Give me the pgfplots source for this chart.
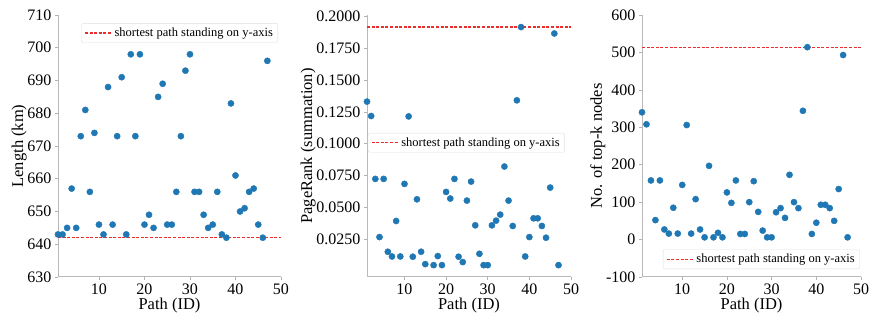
\documentclass[border=0pt]{standalone}
\usepackage{fontspec}
\setmainfont{Liberation Serif}
\usepackage{pgfplots}
\pgfplotsset{compat=1.18}
\definecolor{mblue}{RGB}{31,119,180}
\definecolor{mred}{RGB}{235,45,45}
\pgfplotsset{
  common/.style={
    scale only axis,
    anchor=south west,
    height=262pt,
    xmin=1, xmax=50,
    xtick={10,20,30,40,50},
    axis lines*=left,
    axis line style={draw=gray!55, line width=1pt},
    tick align=outside,
    major tick length=3pt,
    tick style={draw=gray!60, line width=0.6pt},
    /pgf/number format/assume math mode=true,
    tick label style={font=\fontsize{16}{18}\selectfont},
    label style={font=\fontsize{16.5}{18}\selectfont},
    xlabel={Path (ID)},
    xlabel style={yshift=3pt},
    ylabel style={yshift=-6pt},
    legend style={font=\fontsize{12.5}{14}\selectfont, draw=gray!25, rounded corners=2pt, fill=white, inner xsep=3pt, inner ysep=2.5pt},
    legend cell align=left,
    legend image code/.code={\draw[mred, line width=1.3pt, dash pattern=on 3pt off 1.6pt] (0cm,0cm) -- (0.95cm,0cm);},
  },
  refline/.style={mred, line width=1.3pt, dash pattern=on 3pt off 1.6pt},
}
\begin{document}
\begin{tikzpicture}
\useasboundingbox (0pt,0pt) rectangle (870pt,324pt);
% Panel 1
\begin{axis}[common, at={(58pt,47pt)}, width=223pt,
  ymin=630, ymax=710, ytick={630,640,...,710},
  ylabel={Length (km)},
  legend style={at={(0.987,0.969)}, anchor=north east}]
\addplot[only marks, mark=*, mark size=3.1pt, mblue, forget plot] coordinates {
(1,643)(2,643)(3,645)(4,657)(5,645)(6,673)(7,681)(8,656)(9,674)(10,646)
(11,643)(12,688)(13,646)(14,673)(15,691)(16,643)(17,698)(18,673)(19,698)(20,646)
(21,649)(22,645)(23,685)(24,689)(25,646)(26,646)(27,656)(28,673)(29,693)(30,698)
(31,656)(32,656)(33,649)(34,645)(35,646)(36,656)(37,643)(38,642)(39,683)(40,661)
(41,650)(42,651)(43,656)(44,657)(45,646)(46,642)(47,696)};
\addplot[refline] coordinates {(1,642)(50,642)};
\addlegendentry{shortest path standing on y-axis}
\end{axis}
% Panel 2
\begin{axis}[common, at={(367pt,47pt)}, width=204pt,
  ymin=-0.0045, ymax=0.2009,
  ytick={0.025,0.05,0.075,0.1,0.125,0.15,0.175,0.2},
  yticklabel style={/pgf/number format/.cd, fixed, fixed zerofill, precision=4},
  scaled y ticks=false,
  ylabel={PageRank (summation)},
  legend style={at={(0.97,0.55)}, anchor=north east}]
\addplot[only marks, mark=*, mark size=3.1pt, mblue, forget plot] coordinates {
(1,0.1330)(2,0.1217)(3,0.0724)(4,0.0268)(5,0.0724)(6,0.0153)(7,0.0116)(8,0.0394)(9,0.0116)(10,0.0685)
(11,0.1214)(12,0.0114)(13,0.0564)(14,0.0153)(15,0.0056)(17,0.0048)(18,0.0119)(19,0.0048)(20,0.0622)
(21,0.0570)(22,0.0724)(23,0.0114)(24,0.0072)(25,0.0554)(26,0.0703)(27,0.0360)(28,0.0137)(29,0.0048)(30,0.0048)
(31,0.0360)(32,0.0397)(33,0.0444)(34,0.0821)(35,0.0554)(36,0.0355)(37,0.1340)(38,0.1914)(39,0.0116)(40,0.0268)
(41,0.0415)(42,0.0415)(43,0.0355)(44,0.0263)(45,0.0656)(46,0.1864)(47,0.0048)};
\addplot[refline] coordinates {(1,0.1914)(50,0.1914)};
\addlegendentry{shortest path standing on y-axis}
\end{axis}
% Panel 3
\begin{axis}[common, at={(642pt,47pt)}, width=219pt,
  ymin=-100, ymax=600, ytick={-100,0,...,600},
  ylabel={No. of top-k nodes},
  legend style={at={(0.995,0.03)}, anchor=south east}]
\addplot[only marks, mark=*, mark size=3.1pt, mblue, forget plot] coordinates {
(1,340)(2,308)(3,158)(4,52)(5,158)(6,27)(7,16)(8,85)(9,16)(10,146)
(11,306)(12,16)(13,108)(14,27)(15,6)(16,197)(17,6)(18,18)(19,6)(20,126)
(21,98)(22,158)(23,15)(24,15)(25,100)(26,156)(27,74)(28,24)(29,6)(30,6)
(31,73)(32,84)(33,58)(34,173)(35,100)(36,84)(37,344)(38,514)(39,15)(40,45)
(41,93)(42,93)(43,84)(44,50)(45,135)(46,493)(47,6)};
\addplot[refline] coordinates {(1,514)(50,514)};
\addlegendentry{shortest path standing on y-axis}
\end{axis}
\end{tikzpicture}
\end{document}
